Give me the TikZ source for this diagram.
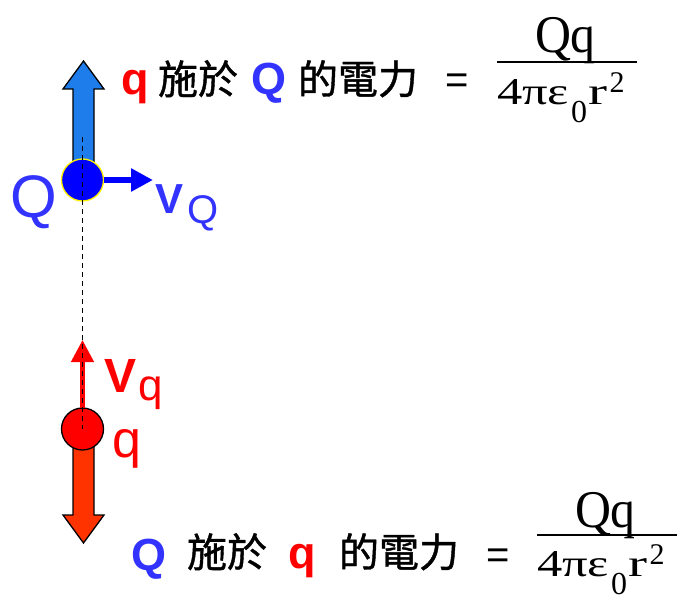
\documentclass[tikz,border=0pt]{standalone}
\usepackage{fontspec}
\setmainfont{Liberation Sans}
\newfontfamily\cjk[FakeBold=1]{Noto Sans CJK TC}
\newfontfamily\tnr{Liberation Serif}
\usetikzlibrary{arrows.meta}
\definecolor{qblue}{RGB}{51,51,255}
\definecolor{arrblue}{RGB}{30,125,235}
\definecolor{dotblue}{RGB}{0,0,255}
\definecolor{qred}{RGB}{255,0,0}
\definecolor{arrorange}{RGB}{255,51,0}
\newcommand{\fsz}[1]{\fontsize{#1}{#1}\selectfont}
\newcommand{\denom}{{\tnr\fsz{38}\scalebox{1.33}[1]{4πε}\kern2pt\raisebox{-18pt}{\fsz{32}0}\kern1.5pt\scalebox{1.5}[1]{r}\kern2pt\raisebox{12pt}{\fsz{30}2}}}
\newcommand{\numer}{{\tnr\fsz{53}\scalebox{0.94}[1]{Qq}}}
\begin{document}
\begin{tikzpicture}[x=1pt,y=-1pt,
  lbl/.style={inner sep=0pt, outer sep=0pt, anchor=base west},
  blockarrow/.style={draw=black, line width=1.3pt, line join=miter},
  charge/.style={circle, inner sep=0pt, outer sep=0pt, minimum size=42pt, line width=1.3pt},
  velarrow/.style={line width=#1, -{Triangle[length=22pt,width=22pt]}},
  fracbar/.style={line width=2.5pt}]
\useasboundingbox (0,0) rectangle (679,596);

% blue block arrow (force on Q)
\draw[blockarrow, fill=arrblue] (73,166) -- (73,89) -- (63,89) -- (83.5,61) -- (104,89) -- (94,89) -- (94,166) -- cycle;
% orange block arrow (force on q)
\draw[blockarrow, fill=arrorange] (73,445) -- (73,515) -- (63,515) -- (83.5,543) -- (104,515) -- (94,515) -- (94,445) -- cycle;

% charges
\node[charge, fill=dotblue, draw=yellow] (Qc) at (82.5,180) {};
\node[charge, fill=qred, draw=black] (qc) at (82.5,429) {};

% velocity arrows
\coordinate (vQtip) at (153,180);
\coordinate (vqtip) at (82.5,340);
\draw[velarrow=6pt, dotblue] (Qc.east) -- (vQtip);
\draw[velarrow=4.5pt, qred] (qc.north) -- (vqtip);

% dashed line joining the charges
\coordinate (dtop) at (82.5,137);
\draw[dash pattern=on 5pt off 4pt, line width=1.9pt] (dtop) -- (qc.center);

% labels near charges
\node[lbl, qblue] (Qlab) at (10,217) {\fsz{60}Q};
\node[lbl, qblue] (vQV) at (155,213) {\fsz{42}\bfseries V};
\node[lbl, qblue] (vQs) at (187,223) {\fsz{40}Q};
\node[lbl, qred] (vqV) at (104,392) {\fsz{48}\bfseries V};
\node[lbl, qred] (vqs) at (138,400) {\fsz{44}q};
\node[lbl, qred] (qlab) at (112,457) {\fsz{52}q};

% top statement
\node[lbl, qred] (t1) at (121,95) {\fsz{45}\bfseries q};
\node[lbl] (t2) at (158,94) {\cjk\fsz{40}施於};
\node[lbl, qblue] (t3) at (251,95) {\fsz{45}\bfseries Q};
\node[lbl] (t4) at (298,94) {\cjk\fsz{40}的電力};
\node[lbl] (t5) at (445,94) {\fsz{40}=};
\node[lbl] (tnum) at (535,53) {\numer};
\node[lbl] (tden) at (497,105) {\denom};
\draw[fracbar] (497,62) -- (637,62);

% bottom statement
\node[lbl, qblue] (b1) at (131,570) {\fsz{45}\bfseries Q};
\node[lbl] (b2) at (187,567) {\cjk\fsz{40}施於};
\node[lbl, qred] (b3) at (288,568) {\fsz{45}\bfseries q};
\node[lbl] (b4) at (339,567) {\cjk\fsz{40}的電力};
\node[lbl] (b5) at (486,568) {\fsz{40}=};
\node[lbl] (bnum) at (575,527) {\numer};
\node[lbl] (bden) at (537,576) {\denom};
\draw[fracbar] (537,535) -- (677,535);
\end{tikzpicture}
\end{document}
